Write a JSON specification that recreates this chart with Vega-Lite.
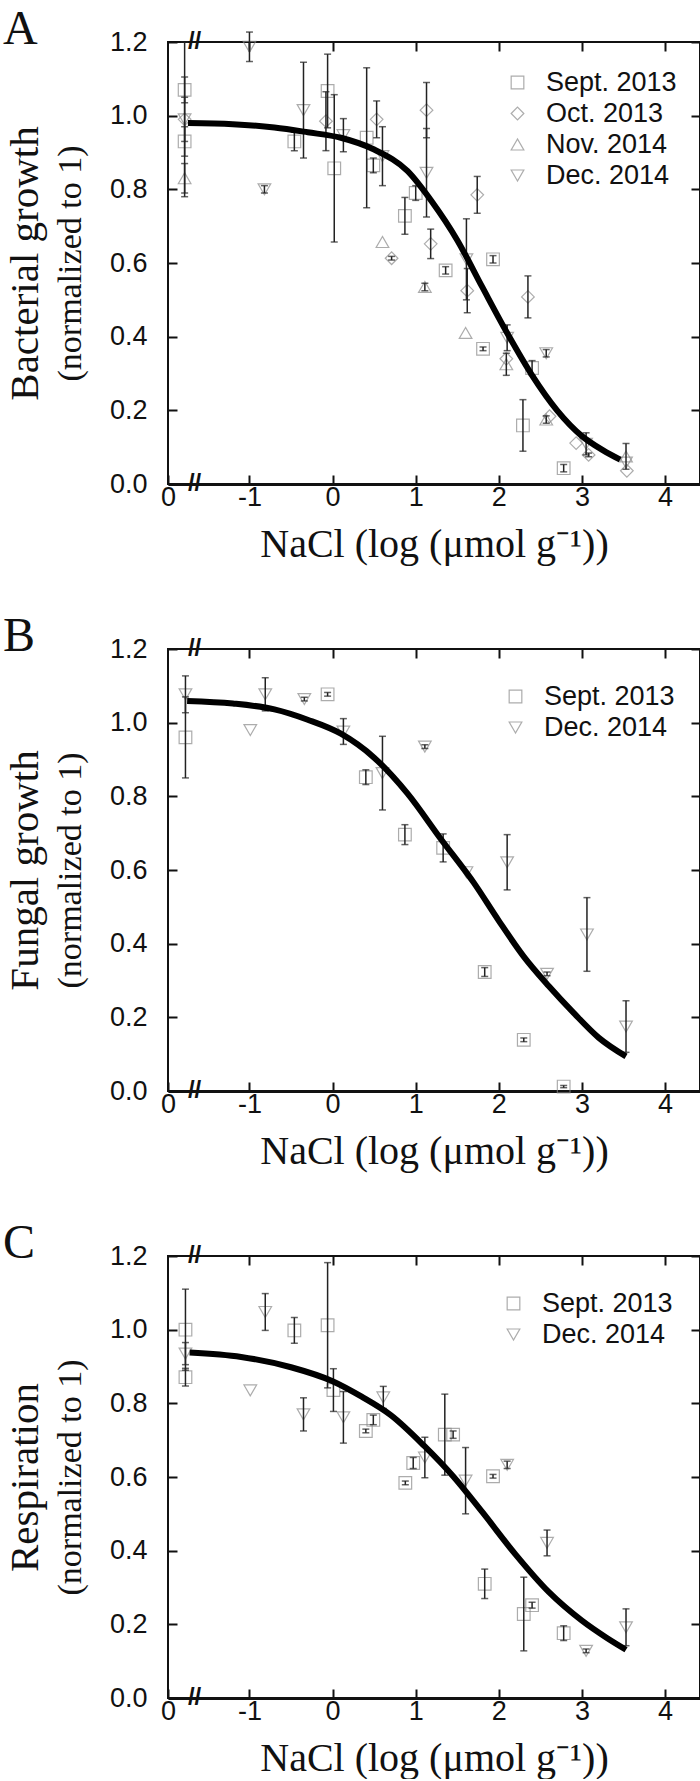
{
  "$schema": "https://vega.github.io/schema/vega-lite/v6.json",
  "background": "white",
  "padding": {"left": 2, "top": 5, "right": 0, "bottom": 0},
  "spacing": 165,
  "bounds": "flush",
  "config": {
    "view": {"stroke": "#111", "strokeWidth": 2},
    "axis": {
      "grid": false,
      "labelFont": "Liberation Sans",
      "labelFontSize": 27,
      "labelColor": "#111",
      "titleFont": "Liberation Serif",
      "titleFontWeight": "normal",
      "titleColor": "#111",
      "tickColor": "#111",
      "tickWidth": 2,
      "tickSize": -9,
      "domain": false,
      "labelFlush": false,
      "labelOverlap": false
    },
    "legend": {
      "orient": "none",
      "labelFont": "Liberation Sans",
      "labelFontSize": 27,
      "labelColor": "#111",
      "symbolSize": 160,
      "symbolStrokeColor": "#8a8a8a",
      "symbolStrokeWidth": 1.2,
      "symbolFillColor": "transparent",
      "labelOffset": 15,
      "rowPadding": 3,
      "padding": 0
    },
    "title": {
      "font": "Liberation Serif",
      "fontSize": 48,
      "fontWeight": "normal",
      "anchor": "start",
      "frame": "group",
      "dx": -165,
      "offset": -26,
      "baseline": "alphabetic",
      "color": "#111"
    }
  },
  "datasets": {
    "breaks": [{"x": -1.66, "y": 0}, {"x": -1.66, "y": 1.2}],
    "a_pts": [
      {"series": "Sept. 2013", "x": -1.78, "y": 1.07, "err": 0.035},
      {"series": "Dec. 2014", "x": -1.78, "y": 0.99, "err": 0.21},
      {"series": "Oct. 2013", "x": -1.78, "y": 0.99, "err": 0.06},
      {"series": "Sept. 2013", "x": -1.78, "y": 0.93, "err": 0.04},
      {"series": "Nov. 2014", "x": -1.78, "y": 0.83, "err": 0.04},
      {"series": "Dec. 2014", "x": -1.0, "y": 1.187, "err": 0.04},
      {"series": "Dec. 2014", "x": -0.82, "y": 0.8, "err": 0.01},
      {"series": "Sept. 2013", "x": -0.46, "y": 0.93, "err": 0.025},
      {"series": "Dec. 2014", "x": -0.35, "y": 1.015, "err": 0.13},
      {"series": "Sept. 2013", "x": -0.06, "y": 1.067, "err": 0.1},
      {"series": "Oct. 2013", "x": -0.08, "y": 0.985, "err": 0.08},
      {"series": "Sept. 2013", "x": 0.02, "y": 0.857, "err": 0.2},
      {"series": "Dec. 2014", "x": 0.13, "y": 0.947, "err": 0.045},
      {"series": "Sept. 2013", "x": 0.41, "y": 0.94, "err": 0.19},
      {"series": "Sept. 2013", "x": 0.49, "y": 0.865, "err": 0.02},
      {"series": "Oct. 2013", "x": 0.53, "y": 0.99, "err": 0.05},
      {"series": "Dec. 2014", "x": 0.6, "y": 0.89, "err": 0.08},
      {"series": "Nov. 2014", "x": 0.6, "y": 0.657, "err": 0},
      {"series": "Oct. 2013", "x": 0.71, "y": 0.613, "err": 0.005},
      {"series": "Sept. 2013", "x": 0.87, "y": 0.728, "err": 0.05},
      {"series": "Sept. 2013", "x": 1.0, "y": 0.79, "err": 0.02},
      {"series": "Oct. 2013", "x": 1.13, "y": 1.015, "err": 0.075},
      {"series": "Dec. 2014", "x": 1.13, "y": 0.845, "err": 0.12},
      {"series": "Oct. 2013", "x": 1.18, "y": 0.652, "err": 0.04},
      {"series": "Nov. 2014", "x": 1.11, "y": 0.535, "err": 0.01},
      {"series": "Sept. 2013", "x": 1.36, "y": 0.58, "err": 0.01},
      {"series": "Dec. 2014", "x": 1.61, "y": 0.61, "err": 0.11},
      {"series": "Oct. 2013", "x": 1.62, "y": 0.525, "err": 0.06},
      {"series": "Nov. 2014", "x": 1.6, "y": 0.41, "err": 0},
      {"series": "Oct. 2013", "x": 1.74, "y": 0.785, "err": 0.05},
      {"series": "Sept. 2013", "x": 1.81, "y": 0.367, "err": 0.005},
      {"series": "Sept. 2013", "x": 1.93, "y": 0.61, "err": 0.01},
      {"series": "Dec. 2014", "x": 2.1, "y": 0.397, "err": 0.035},
      {"series": "Oct. 2013", "x": 2.09, "y": 0.34, "err": 0},
      {"series": "Nov. 2014", "x": 2.09, "y": 0.325, "err": 0.03},
      {"series": "Sept. 2013", "x": 2.29, "y": 0.159, "err": 0.07},
      {"series": "Oct. 2013", "x": 2.35, "y": 0.508, "err": 0.057},
      {"series": "Sept. 2013", "x": 2.4, "y": 0.315, "err": 0.02},
      {"series": "Dec. 2014", "x": 2.57, "y": 0.355, "err": 0.01},
      {"series": "Nov. 2014", "x": 2.57, "y": 0.175, "err": 0.01},
      {"series": "Oct. 2013", "x": 2.61, "y": 0.184, "err": 0},
      {"series": "Sept. 2013", "x": 2.78, "y": 0.043, "err": 0.01},
      {"series": "Oct. 2013", "x": 2.93, "y": 0.111, "err": 0},
      {"series": "Dec. 2014", "x": 3.05, "y": 0.109, "err": 0.03},
      {"series": "Oct. 2013", "x": 3.08, "y": 0.079, "err": 0.005},
      {"series": "Nov. 2014", "x": 3.53, "y": 0.075, "err": 0.035},
      {"series": "Dec. 2014", "x": 3.53, "y": 0.058, "err": 0},
      {"series": "Oct. 2013", "x": 3.54, "y": 0.036, "err": 0}
    ],
    "a_fit": [
      {"x": -1.74, "y": 0.98}, {"x": -1.2, "y": 0.977}, {"x": -0.7, "y": 0.968},
      {"x": -0.3, "y": 0.955}, {"x": 0.1, "y": 0.94}, {"x": 0.5, "y": 0.908},
      {"x": 0.9, "y": 0.85}, {"x": 1.2, "y": 0.765}, {"x": 1.5, "y": 0.662},
      {"x": 1.8, "y": 0.535}, {"x": 2.1, "y": 0.41}, {"x": 2.4, "y": 0.295},
      {"x": 2.7, "y": 0.2}, {"x": 3.0, "y": 0.13}, {"x": 3.25, "y": 0.092},
      {"x": 3.46, "y": 0.066}
    ],
    "b_pts": [
      {"series": "Dec. 2014", "x": -1.77, "y": 1.077, "err": 0.05},
      {"series": "Sept. 2013", "x": -1.77, "y": 0.96, "err": 0.11},
      {"series": "Dec. 2014", "x": -0.99, "y": 0.98, "err": 0},
      {"series": "Dec. 2014", "x": -0.81, "y": 1.077, "err": 0.045},
      {"series": "Dec. 2014", "x": -0.34, "y": 1.064, "err": 0.005},
      {"series": "Sept. 2013", "x": -0.06, "y": 1.077, "err": 0.005},
      {"series": "Dec. 2014", "x": 0.13, "y": 0.976, "err": 0.035},
      {"series": "Sept. 2013", "x": 0.4, "y": 0.852, "err": 0.02},
      {"series": "Dec. 2014", "x": 0.6, "y": 0.863, "err": 0.1},
      {"series": "Sept. 2013", "x": 0.87, "y": 0.696, "err": 0.027},
      {"series": "Dec. 2014", "x": 1.11, "y": 0.935, "err": 0.005},
      {"series": "Sept. 2013", "x": 1.33, "y": 0.66, "err": 0.038},
      {"series": "Dec. 2014", "x": 1.61, "y": 0.594, "err": 0},
      {"series": "Sept. 2013", "x": 1.83, "y": 0.323, "err": 0.012},
      {"series": "Dec. 2014", "x": 2.1, "y": 0.621, "err": 0.075},
      {"series": "Sept. 2013", "x": 2.3, "y": 0.139, "err": 0.005},
      {"series": "Dec. 2014", "x": 2.58, "y": 0.318, "err": 0.005},
      {"series": "Sept. 2013", "x": 2.78, "y": 0.012, "err": 0.003},
      {"series": "Dec. 2014", "x": 3.06, "y": 0.425, "err": 0.1},
      {"series": "Dec. 2014", "x": 3.53, "y": 0.175, "err": 0.07}
    ],
    "b_fit": [
      {"x": -1.75, "y": 1.059}, {"x": -1.2, "y": 1.052}, {"x": -0.7, "y": 1.036},
      {"x": -0.3, "y": 1.008}, {"x": 0.1, "y": 0.97}, {"x": 0.5, "y": 0.905},
      {"x": 0.9, "y": 0.808}, {"x": 1.3, "y": 0.685}, {"x": 1.7, "y": 0.565},
      {"x": 2.0, "y": 0.462}, {"x": 2.3, "y": 0.365}, {"x": 2.6, "y": 0.285},
      {"x": 2.9, "y": 0.212}, {"x": 3.2, "y": 0.145}, {"x": 3.53, "y": 0.094}
    ],
    "c_pts": [
      {"series": "Sept. 2013", "x": -1.77, "y": 1.0, "err": 0.11},
      {"series": "Dec. 2014", "x": -1.77, "y": 0.935, "err": 0.03},
      {"series": "Sept. 2013", "x": -1.77, "y": 0.871, "err": 0.024},
      {"series": "Dec. 2014", "x": -0.99, "y": 0.835, "err": 0},
      {"series": "Dec. 2014", "x": -0.81, "y": 1.048, "err": 0.05},
      {"series": "Sept. 2013", "x": -0.46, "y": 0.998, "err": 0.035},
      {"series": "Dec. 2014", "x": -0.35, "y": 0.77, "err": 0.045},
      {"series": "Sept. 2013", "x": -0.06, "y": 1.012, "err": 0.17},
      {"series": "Sept. 2013", "x": 0.01, "y": 0.836, "err": 0.058},
      {"series": "Dec. 2014", "x": 0.13, "y": 0.762, "err": 0.07},
      {"series": "Sept. 2013", "x": 0.4, "y": 0.725, "err": 0.005},
      {"series": "Sept. 2013", "x": 0.49, "y": 0.755, "err": 0.013},
      {"series": "Dec. 2014", "x": 0.61, "y": 0.816, "err": 0.03},
      {"series": "Sept. 2013", "x": 0.875, "y": 0.584, "err": 0.005},
      {"series": "Sept. 2013", "x": 0.97, "y": 0.638, "err": 0.015},
      {"series": "Dec. 2014", "x": 1.11, "y": 0.653, "err": 0.055},
      {"series": "Sept. 2013", "x": 1.35, "y": 0.715, "err": 0.11},
      {"series": "Sept. 2013", "x": 1.45, "y": 0.715, "err": 0.01},
      {"series": "Dec. 2014", "x": 1.6, "y": 0.59, "err": 0.09},
      {"series": "Sept. 2013", "x": 1.83, "y": 0.31, "err": 0.04},
      {"series": "Sept. 2013", "x": 1.93, "y": 0.602, "err": 0.005},
      {"series": "Dec. 2014", "x": 2.1, "y": 0.633, "err": 0.01},
      {"series": "Sept. 2013", "x": 2.3, "y": 0.228, "err": 0.1},
      {"series": "Sept. 2013", "x": 2.4, "y": 0.252, "err": 0.008},
      {"series": "Dec. 2014", "x": 2.58, "y": 0.421, "err": 0.035},
      {"series": "Sept. 2013", "x": 2.78, "y": 0.176, "err": 0.02},
      {"series": "Dec. 2014", "x": 3.05, "y": 0.128, "err": 0.005},
      {"series": "Dec. 2014", "x": 3.53, "y": 0.192, "err": 0.05}
    ],
    "c_fit": [
      {"x": -1.72, "y": 0.938}, {"x": -1.1, "y": 0.926}, {"x": -0.5, "y": 0.898},
      {"x": 0.0, "y": 0.86}, {"x": 0.35, "y": 0.818}, {"x": 0.7, "y": 0.768},
      {"x": 1.1, "y": 0.685}, {"x": 1.45, "y": 0.602}, {"x": 1.8, "y": 0.505},
      {"x": 2.2, "y": 0.39}, {"x": 2.6, "y": 0.288}, {"x": 3.0, "y": 0.21},
      {"x": 3.3, "y": 0.163}, {"x": 3.53, "y": 0.131}
    ]
  },
  "resolve": {
    "scale": {"x": "independent", "y": "independent", "shape": "independent"},
    "legend": {"shape": "independent"}
  },
  "vconcat": [
    {
      "width": 532,
      "height": 442,
      "title": {"text": "A"},
      "layer": [
        {
          "data": {"name": "a_pts"},
          "mark": {"type": "point", "filled": false, "size": 160, "strokeWidth": 1.2, "color": "#8a8a8a"},
          "encoding": {
            "x": {
              "field": "x", "type": "quantitative",
              "scale": {"domain": [-1.98, 4.42], "nice": false, "zero": false},
              "axis": {
                "orient": "bottom", "values": [-1.98, -1, 0, 1, 2, 3, 4],
                "labelExpr": "datum.value < -1.5 ? '0' : '' + datum.value",
                "labelPadding": 9, "domain": true, "domainColor": "#111", "domainWidth": 3,
                "title": "NaCl (log (μmol g⁻¹))", "titleFontSize": 40, "titleY": 72, "titleBaseline": "alphabetic"
              }
            },
            "y": {
              "field": "y", "type": "quantitative",
              "scale": {"domain": [0, 1.2], "nice": false, "zero": false},
              "axis": {
                "orient": "left", "values": [0, 0.2, 0.4, 0.6, 0.8, 1, 1.2], "format": ".1f",
                "labelPadding": 30, "title": "(normalized to 1)", "titleFontSize": 34,
                "titleX": -98, "titleY": 221, "titleAngle": -90, "titleAlign": "center", "titleBaseline": "middle"
              }
            },
            "shape": {
              "field": "series", "type": "nominal",
              "scale": {"domain": ["Sept. 2013", "Oct. 2013", "Nov. 2014", "Dec. 2014"], "range": ["square", "diamond", "triangle-up", "triangle-down"]},
              "legend": {"orient": "none", "legendX": 336, "legendY": 27, "title": null}
            }
          }
        },
        {
          "data": {"name": "a_pts"},
          "transform": [{"filter": "datum.err > 0"}],
          "mark": {"type": "errorbar", "ticks": {"size": 7, "thickness": 1.5}, "thickness": 1.5, "color": "#222"},
          "encoding": {
            "x": {"field": "x", "type": "quantitative", "scale": {"domain": [-1.98, 4.42], "nice": false, "zero": false}, "axis": null},
            "y": {"field": "y", "type": "quantitative", "scale": {"domain": [0, 1.2], "nice": false, "zero": false}, "axis": null},
            "yError": {"field": "err"}
          }
        },
        {
          "data": {"name": "a_fit"},
          "mark": {"type": "line", "color": "#000", "strokeWidth": 6, "interpolate": "monotone"},
          "encoding": {
            "x": {"field": "x", "type": "quantitative", "scale": {"domain": [-1.98, 4.42], "nice": false, "zero": false}, "axis": null},
            "y": {
              "field": "y", "type": "quantitative", "scale": {"domain": [0, 1.2], "nice": false, "zero": false},
              "axis": {
                "orient": "left", "labels": false, "ticks": false, "title": "Bacterial growth", "titleFontSize": 41,
                "titleX": -143, "titleY": 221, "titleAngle": -90, "titleAlign": "center", "titleBaseline": "middle"
              }
            }
          }
        },
        {
          "data": {"name": "breaks"},
          "mark": {"type": "text", "text": "//", "font": "Liberation Sans", "fontSize": 24, "fontWeight": "bold", "align": "center", "baseline": "middle", "color": "#111"},
          "encoding": {
            "x": {
              "field": "x", "type": "quantitative", "scale": {"domain": [-1.98, 4.42], "nice": false, "zero": false},
              "axis": {"orient": "top", "values": [-1, 0, 1, 2, 3, 4], "labels": false, "title": null}
            },
            "y": {
              "field": "y", "type": "quantitative", "scale": {"domain": [0, 1.2], "nice": false, "zero": false},
              "axis": {"orient": "right", "values": [0, 0.2, 0.4, 0.6, 0.8, 1, 1.2], "labels": false, "title": null}
            }
          }
        }
      ],
      "resolve": {"axis": {"x": "independent", "y": "independent"}}
    },
    {
      "width": 532,
      "height": 442,
      "title": {"text": "B"},
      "layer": [
        {
          "data": {"name": "b_pts"},
          "mark": {"type": "point", "filled": false, "size": 160, "strokeWidth": 1.2, "color": "#8a8a8a"},
          "encoding": {
            "x": {
              "field": "x", "type": "quantitative",
              "scale": {"domain": [-1.98, 4.42], "nice": false, "zero": false},
              "axis": {
                "orient": "bottom", "values": [-1.98, -1, 0, 1, 2, 3, 4],
                "labelExpr": "datum.value < -1.5 ? '0' : '' + datum.value",
                "labelPadding": 9, "domain": true, "domainColor": "#111", "domainWidth": 3,
                "title": "NaCl (log (μmol g⁻¹))", "titleFontSize": 40, "titleY": 72, "titleBaseline": "alphabetic"
              }
            },
            "y": {
              "field": "y", "type": "quantitative",
              "scale": {"domain": [0, 1.2], "nice": false, "zero": false},
              "axis": {
                "orient": "left", "values": [0, 0.2, 0.4, 0.6, 0.8, 1, 1.2], "format": ".1f",
                "labelPadding": 30, "title": "(normalized to 1)", "titleFontSize": 34,
                "titleX": -98, "titleY": 221, "titleAngle": -90, "titleAlign": "center", "titleBaseline": "middle"
              }
            },
            "shape": {
              "field": "series", "type": "nominal",
              "scale": {"domain": ["Sept. 2013", "Dec. 2014"], "range": ["square", "triangle-down"]},
              "legend": {"orient": "none", "legendX": 334, "legendY": 34, "title": null}
            }
          }
        },
        {
          "data": {"name": "b_pts"},
          "transform": [{"filter": "datum.err > 0"}],
          "mark": {"type": "errorbar", "ticks": {"size": 7, "thickness": 1.5}, "thickness": 1.5, "color": "#222"},
          "encoding": {
            "x": {"field": "x", "type": "quantitative", "scale": {"domain": [-1.98, 4.42], "nice": false, "zero": false}, "axis": null},
            "y": {"field": "y", "type": "quantitative", "scale": {"domain": [0, 1.2], "nice": false, "zero": false}, "axis": null},
            "yError": {"field": "err"}
          }
        },
        {
          "data": {"name": "b_fit"},
          "mark": {"type": "line", "color": "#000", "strokeWidth": 6, "interpolate": "monotone"},
          "encoding": {
            "x": {"field": "x", "type": "quantitative", "scale": {"domain": [-1.98, 4.42], "nice": false, "zero": false}, "axis": null},
            "y": {
              "field": "y", "type": "quantitative", "scale": {"domain": [0, 1.2], "nice": false, "zero": false},
              "axis": {
                "orient": "left", "labels": false, "ticks": false, "title": "Fungal growth", "titleFontSize": 41,
                "titleX": -143, "titleY": 221, "titleAngle": -90, "titleAlign": "center", "titleBaseline": "middle"
              }
            }
          }
        },
        {
          "data": {"name": "breaks"},
          "mark": {"type": "text", "text": "//", "font": "Liberation Sans", "fontSize": 24, "fontWeight": "bold", "align": "center", "baseline": "middle", "color": "#111"},
          "encoding": {
            "x": {
              "field": "x", "type": "quantitative", "scale": {"domain": [-1.98, 4.42], "nice": false, "zero": false},
              "axis": {"orient": "top", "values": [-1, 0, 1, 2, 3, 4], "labels": false, "title": null}
            },
            "y": {
              "field": "y", "type": "quantitative", "scale": {"domain": [0, 1.2], "nice": false, "zero": false},
              "axis": {"orient": "right", "values": [0, 0.2, 0.4, 0.6, 0.8, 1, 1.2], "labels": false, "title": null}
            }
          }
        }
      ],
      "resolve": {"axis": {"x": "independent", "y": "independent"}}
    },
    {
      "width": 532,
      "height": 442,
      "title": {"text": "C"},
      "layer": [
        {
          "data": {"name": "c_pts"},
          "mark": {"type": "point", "filled": false, "size": 160, "strokeWidth": 1.2, "color": "#8a8a8a"},
          "encoding": {
            "x": {
              "field": "x", "type": "quantitative",
              "scale": {"domain": [-1.98, 4.42], "nice": false, "zero": false},
              "axis": {
                "orient": "bottom", "values": [-1.98, -1, 0, 1, 2, 3, 4],
                "labelExpr": "datum.value < -1.5 ? '0' : '' + datum.value",
                "labelPadding": 9, "domain": true, "domainColor": "#111", "domainWidth": 3,
                "title": "NaCl (log (μmol g⁻¹))", "titleFontSize": 40, "titleY": 72, "titleBaseline": "alphabetic"
              }
            },
            "y": {
              "field": "y", "type": "quantitative",
              "scale": {"domain": [0, 1.2], "nice": false, "zero": false},
              "axis": {
                "orient": "left", "values": [0, 0.2, 0.4, 0.6, 0.8, 1, 1.2], "format": ".1f",
                "labelPadding": 30, "title": "(normalized to 1)", "titleFontSize": 34,
                "titleX": -98, "titleY": 221, "titleAngle": -90, "titleAlign": "center", "titleBaseline": "middle"
              }
            },
            "shape": {
              "field": "series", "type": "nominal",
              "scale": {"domain": ["Sept. 2013", "Dec. 2014"], "range": ["square", "triangle-down"]},
              "legend": {"orient": "none", "legendX": 332, "legendY": 34, "title": null}
            }
          }
        },
        {
          "data": {"name": "c_pts"},
          "transform": [{"filter": "datum.err > 0"}],
          "mark": {"type": "errorbar", "ticks": {"size": 7, "thickness": 1.5}, "thickness": 1.5, "color": "#222"},
          "encoding": {
            "x": {"field": "x", "type": "quantitative", "scale": {"domain": [-1.98, 4.42], "nice": false, "zero": false}, "axis": null},
            "y": {"field": "y", "type": "quantitative", "scale": {"domain": [0, 1.2], "nice": false, "zero": false}, "axis": null},
            "yError": {"field": "err"}
          }
        },
        {
          "data": {"name": "c_fit"},
          "mark": {"type": "line", "color": "#000", "strokeWidth": 6, "interpolate": "monotone"},
          "encoding": {
            "x": {"field": "x", "type": "quantitative", "scale": {"domain": [-1.98, 4.42], "nice": false, "zero": false}, "axis": null},
            "y": {
              "field": "y", "type": "quantitative", "scale": {"domain": [0, 1.2], "nice": false, "zero": false},
              "axis": {
                "orient": "left", "labels": false, "ticks": false, "title": "Respiration", "titleFontSize": 41,
                "titleX": -143, "titleY": 221, "titleAngle": -90, "titleAlign": "center", "titleBaseline": "middle"
              }
            }
          }
        },
        {
          "data": {"name": "breaks"},
          "mark": {"type": "text", "text": "//", "font": "Liberation Sans", "fontSize": 24, "fontWeight": "bold", "align": "center", "baseline": "middle", "color": "#111"},
          "encoding": {
            "x": {
              "field": "x", "type": "quantitative", "scale": {"domain": [-1.98, 4.42], "nice": false, "zero": false},
              "axis": {"orient": "top", "values": [-1, 0, 1, 2, 3, 4], "labels": false, "title": null}
            },
            "y": {
              "field": "y", "type": "quantitative", "scale": {"domain": [0, 1.2], "nice": false, "zero": false},
              "axis": {"orient": "right", "values": [0, 0.2, 0.4, 0.6, 0.8, 1, 1.2], "labels": false, "title": null}
            }
          }
        }
      ],
      "resolve": {"axis": {"x": "independent", "y": "independent"}}
    }
  ]
}
